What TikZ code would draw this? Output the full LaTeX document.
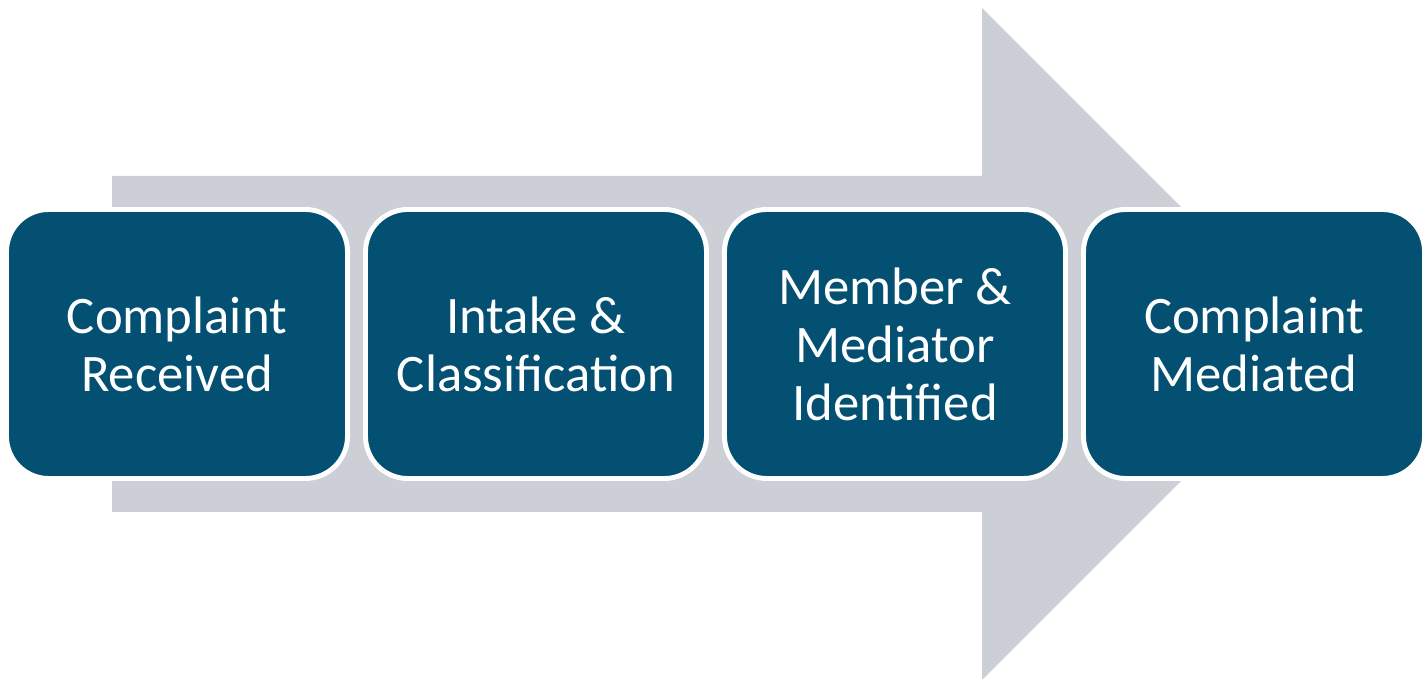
\documentclass[tikz,border=0pt]{standalone}
\usepackage{fontspec}
\setmainfont{Carlito}
\usepackage{tikz}
\usetikzlibrary{positioning}
\definecolor{stepBlue}{RGB}{3,80,115}
\definecolor{arrowGray}{RGB}{204,208,214}

\begin{document}
\begin{tikzpicture}[
    font=\fontsize{15}{16.5}\selectfont,
    stage/.style={
      rounded corners=12pt,
      draw=white,
      line width=1.4pt,
      fill=stepBlue,
      text=white,
      align=center,
      outer sep=0pt,
      minimum width=3.41cm,
      minimum height=2.69cm
    }
  ]
    \useasboundingbox (0,0) rectangle (14.27,6.79);

    % big process arrow behind the steps
    \fill[arrowGray] (1.12,5.03) -- (9.82,5.03) -- (9.82,6.71)
      -- (13.18,3.35) -- (9.82,-0.01) -- (9.82,1.67) -- (1.12,1.67) -- cycle;

    \node[stage] (received) at (1.77,3.35) {Complaint\\Received};
    \node[stage, right=0.18cm of received] (intake) {Intake \&\\Classification};
    \node[stage, right=0.18cm of intake] (identified) {Member \&\\Mediator\\Identified};
    \node[stage, right=0.18cm of identified] (mediated) {Complaint\\Mediated};
  \end{tikzpicture}
\end{document}
